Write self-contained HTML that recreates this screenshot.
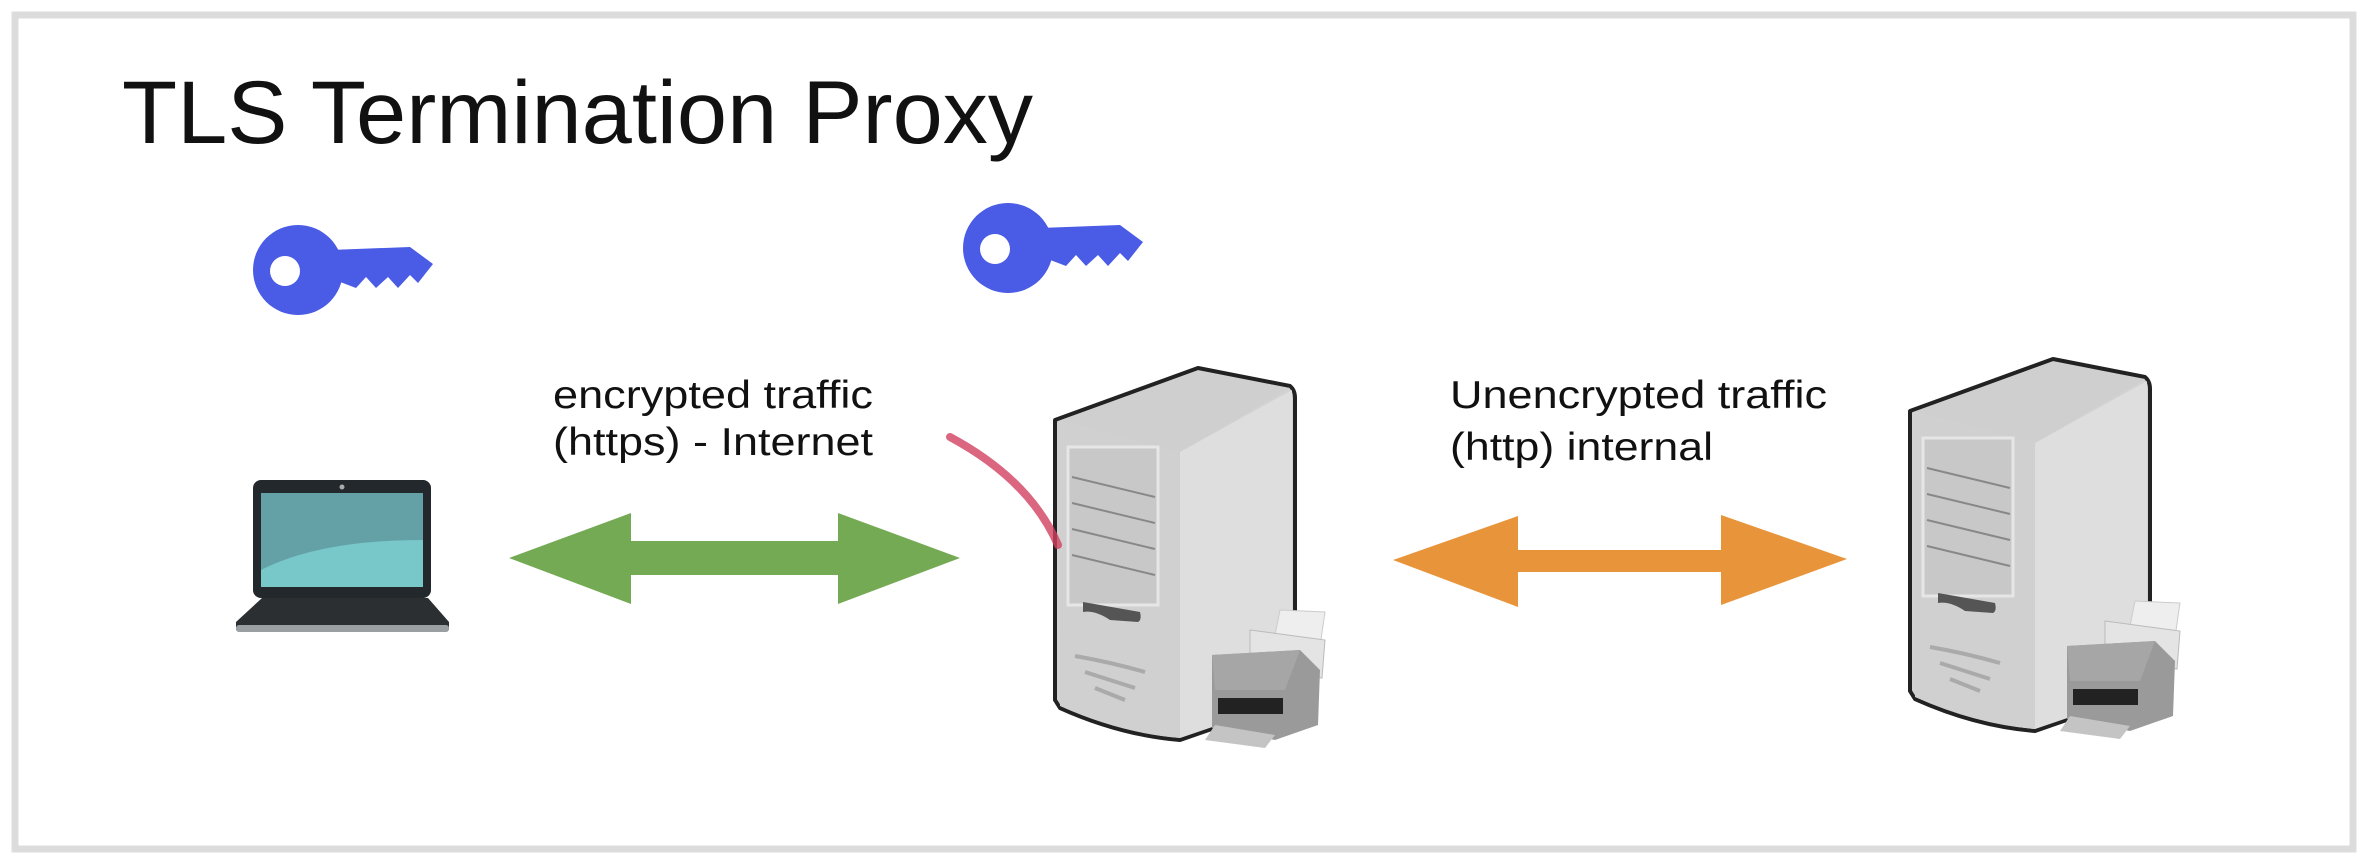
<!DOCTYPE html>
<html><head><meta charset="utf-8"><style>
html,body{margin:0;padding:0;background:#fff;}
svg{display:block;}
text{font-family:"Liberation Sans",Arial,sans-serif;fill:#111;}
</style></head><body>
<svg width="2368" height="864" viewBox="0 0 2368 864" xmlns="http://www.w3.org/2000/svg">
<rect x="0" y="0" width="2368" height="864" fill="#fff"/>
<rect x="15" y="15" width="2338" height="834" fill="none" stroke="#dcdcdc" stroke-width="7"/>
<text x="122" y="143" font-size="89" textLength="911" lengthAdjust="spacingAndGlyphs">TLS Termination Proxy</text>

<defs>
<g id="key">
<circle cx="298" cy="270" r="45" fill="#4a5be6"/>
<path d="M330 250 L410 247 L433 264 L418 283 L410 275 L398 288 L388 277 L376 288 L366 277 L356 288 L335 280 Z" fill="#4a5be6"/>
<circle cx="285" cy="271" r="15" fill="#fff"/>
</g>
<g id="server">
<path d="M1055 420 L1198 368 L1290 386 Q1295 390 1295 398 L1295 700 L1180 740 Q1120 735 1060 708 L1055 700 Z" fill="#d2d2d2" stroke="#222" stroke-width="4" stroke-linejoin="round"/>
<path d="M1058 421 L1198 371 L1290 388 L1180 452 Z" fill="#cfcfcf"/>
<path d="M1180 452 L1292 390 L1292 700 L1180 738 Z" fill="#dedede"/>
<path d="M1058 422 L1180 452 L1180 738 Q1120 733 1060 706 Z" fill="#d0d0d0"/>
<rect x="1068" y="447" width="90" height="158" fill="#c8c8c8" stroke="#e6e6e6" stroke-width="3"/>
<g stroke="#888" stroke-width="2">
<line x1="1072" y1="477" x2="1155" y2="497"/>
<line x1="1072" y1="503" x2="1155" y2="523"/>
<line x1="1072" y1="529" x2="1155" y2="549"/>
<line x1="1072" y1="555" x2="1155" y2="575"/>
</g>
<path d="M1083 602 L1140 612 Q1142 620 1138 622 L1110 620 Q1095 610 1083 612 Z" fill="#555"/>
<g stroke="#aaa" stroke-width="4" fill="none">
<path d="M1075 656 Q1110 662 1145 672"/>
<path d="M1085 672 Q1110 680 1135 688"/>
<path d="M1095 688 Q1110 694 1125 700"/>
</g>
<path d="M1280 610 L1325 612 L1318 660 L1270 660 Z" fill="#eee" stroke="#ccc"/>
<path d="M1250 630 L1325 640 L1322 678 L1250 668 Z" fill="#e4e4e4" stroke="#bbb"/>
<path d="M1212 655 L1300 650 L1320 670 L1318 725 L1275 740 L1212 728 Z" fill="#9a9a9a"/>
<path d="M1212 655 L1300 650 L1285 690 L1215 690 Z" fill="#a6a6a6"/>
<rect x="1218" y="698" width="65" height="16" fill="#222"/>
<path d="M1215 725 L1275 735 L1265 748 L1205 740 Z" fill="#c4c4c4"/>
</g>
</defs>

<use href="#key"/>
<use href="#key" transform="translate(710,-22)"/>

<!-- laptop -->
<rect x="253" y="480" width="178" height="118" rx="8" fill="#22282b"/>
<rect x="261" y="493" width="162" height="94" fill="#64a1a6"/>
<path d="M261 570 Q320 540 423 540 L423 587 L261 587 Z" fill="#78c7c9"/>
<circle cx="342" cy="487" r="2.5" fill="#aaa"/>
<path d="M262 598 L428 598 L449 622 L449 630 L236 630 L236 622 Z" fill="#2b2f31"/>
<rect x="236" y="625" width="213" height="7" rx="3" fill="#9aa0a2"/>

<!-- green arrow -->
<path d="M509 558 L631 513 L631 541 L838 541 L838 513 L960 558 L838 604 L838 575 L631 575 L631 604 Z" fill="#75aa55"/>
<!-- orange arrow -->
<path d="M1393 560 L1518 516 L1518 550 L1721 550 L1721 515 L1847 559 L1721 605 L1721 572 L1518 572 L1518 607 Z" fill="#e8943a"/>

<text x="553" y="408" font-size="39" textLength="320" lengthAdjust="spacingAndGlyphs">encrypted traffic</text>
<text x="553" y="455" font-size="39" textLength="320" lengthAdjust="spacingAndGlyphs">(https) - Internet</text>
<text x="1450" y="408" font-size="39" textLength="377" lengthAdjust="spacingAndGlyphs">Unencrypted traffic</text>
<text x="1450" y="460" font-size="39" textLength="263" lengthAdjust="spacingAndGlyphs">(http) internal</text>

<use href="#server"/>
<use href="#server" transform="translate(855,-9)"/>

<path d="M950 437 Q1030 480 1058 545" fill="none" stroke="#d2405f" stroke-width="8" stroke-linecap="round" opacity="0.8"/>
</svg>
</body></html>
